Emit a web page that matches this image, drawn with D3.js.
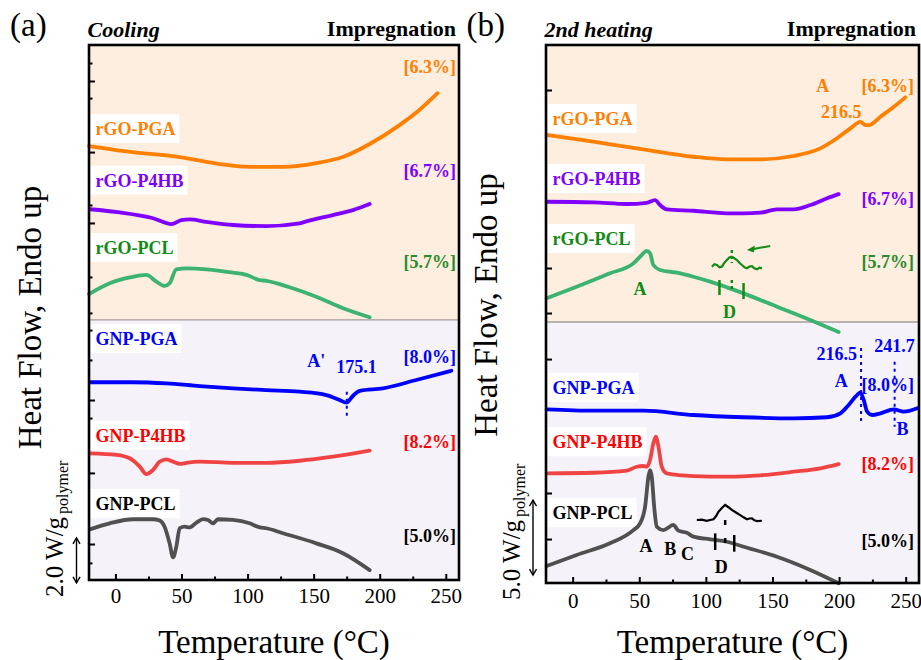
<!DOCTYPE html>
<html><head><meta charset="utf-8">
<script src="https://cdn.jsdelivr.net/npm/d3@7"></script>
<style>body{margin:0;background:#fff}svg{display:block}text{font-family:"Liberation Serif","Times New Roman",serif}</style>
</head><body><svg width="921" height="660"></svg>
<script>
// ---------- DATA ----------
const tempDomain = [-20, 260];
const tempMajorTicks = [0, 50, 100, 150, 200, 250];
const tempMinorTicks = [25, 75, 125, 175, 225];
const seriesNames = ["rGO-PGA", "rGO-P4HB", "rGO-PCL", "GNP-PGA", "GNP-P4HB", "GNP-PCL"];
const impregnation = ["[6.3%]", "[6.7%]", "[5.7%]", "[8.0%]", "[8.2%]", "[5.0%]"];

// (a) Cooling, stacked heat flow (W/g, offset)  [T (°C), value]
const coolRgoPga = [[-20,19.29],[13,19.02],[48.6,18.8],[79,18.49],[101.6,18.36],[126.6,18.36],[152,18.53],[172,18.8],[192.4,19.38],[215,20.22],[230,20.89],[243.8,21.64]];
const coolRgoP4hb = [[-19.4,16.48],[3.3,16.34],[28.4,16.08],[42.4,15.82],[49.9,16.0],[56.2,16.03],[68.8,15.92],[89,15.78],[114.2,15.73],[139.4,15.85],[143.2,15.92],[164.6,16.22],[179.7,16.44],[192.4,16.71]];
const coolRgoPcl = [[-20,12.71],[-4.3,13.19],[11,13.45],[23.4,13.56],[31,13.26],[37.2,13.07],[41,13.19],[46.1,13.81],[53.7,13.85],[68.8,13.81],[89,13.66],[99.1,13.56],[109.2,13.33],[114.2,13.3],[131.8,13.01],[152,12.59],[172.2,12.08],[192.4,11.68]];
const coolGnpPga = [[-19.4,8.79],[13.3,8.79],[38.6,8.74],[63.8,8.62],[89,8.52],[114.2,8.44],[139.4,8.37],[159.6,8.22],[169.7,8.0],[174.7,7.88],[179.7,8.18],[184.8,8.41],[202.4,8.52],[227.7,8.89],[254.2,9.3]];
const coolGnpP4hb = [[-19.4,5.63],[0.8,5.56],[10.8,5.41],[18.4,5.04],[23.4,4.71],[28.4,4.89],[33.5,5.26],[38.6,5.36],[43.6,5.26],[48.6,5.16],[53.7,5.21],[63.8,5.26],[89,5.21],[114.2,5.21],[139.4,5.3],[164.6,5.48],[192.4,5.75]];
const coolGnpPcl = [[-19.4,2.25],[-4.3,2.52],[13.3,2.7],[28.4,2.7],[33.5,2.64],[37.2,2.37],[41,1.63],[43.6,1.01],[46.1,1.48],[48.6,2.3],[52.4,2.37],[56.2,2.34],[61.3,2.55],[66.3,2.71],[70.1,2.67],[73.9,2.52],[77.6,2.7],[89,2.67],[101.6,2.52],[109.2,2.34],[114.2,2.3],[126.8,2.08],[152,1.63],[172.2,1.19],[192.4,0.44]];
const coolPeaks = [175.1];

// (b) 2nd heating
const heatRgoPga = [[-19.5,29.87],[15.5,29.42],[53.1,28.91],[90.7,28.42],[115.8,28.25],[140.8,28.25],[165.9,28.47],[185.9,28.98],[198.5,29.65],[208.5,30.31],[216,30.75],[219.8,30.53],[222.3,30.53],[231.1,31.09],[241.1,31.75],[249.8,32.38]];
const heatRgoP4hb = [[-19.5,25.42],[15.5,25.38],[40.6,25.27],[55.6,25.35],[61.9,25.53],[65.6,25.2],[70.7,24.91],[90.7,24.82],[115.8,24.65],[128.3,24.65],[140.8,24.69],[153.4,24.91],[165.9,24.91],[178.4,25.2],[191,25.65],[199.7,25.93]];
const heatRgoPcl = [[-19.5,18.98],[3,19.75],[28,20.65],[45.6,21.31],[51.9,21.87],[55.6,22.15],[58.1,21.98],[60.6,21.2],[65.6,20.87],[78.2,20.69],[90.7,20.42],[103.2,20.09],[115.8,19.71],[128.3,19.31],[153.4,18.42],[178.4,17.53],[199.7,16.73]];
const heatGnpPga = [[-19.5,11.58],[15.5,11.49],[53.1,11.49],[90.7,11.2],[128.3,11.05],[165.9,10.98],[191,11.05],[201,11.31],[207.2,11.87],[212.3,12.42],[216,12.69],[218.5,12.2],[221.1,11.42],[224.8,11.2],[231.1,11.31],[241.1,11.58],[248.6,11.42],[258.6,11.65]];
const heatGnpP4hb = [[-19.5,7.31],[15.5,7.35],[40.6,7.49],[48.1,7.75],[53.1,7.8],[55.6,7.75],[58.1,8.2],[60.6,9.31],[62.4,9.75],[64.4,9.09],[66.9,7.75],[70.7,7.31],[90.7,7.13],[115.8,7.09],[140.8,7.18],[165.9,7.42],[185.9,7.65],[199.7,7.93]];
const heatGnpPcl = [[-19.5,1.13],[3,1.87],[28,2.65],[45.6,3.53],[50.6,3.98],[54.4,5.09],[56.9,7.09],[58.1,7.53],[59.4,7.09],[61.2,5.09],[63.2,3.75],[68.2,3.53],[75.6,3.87],[79.4,3.49],[85.7,3.35],[90.7,3.09],[103.2,2.91],[115.8,2.75],[128.3,2.42],[153.4,1.75],[178.4,0.87],[199.7,-0.02]];
// magnified insets of the D region
const insetRgoPcl = [[104.5,21.09],[106.4,21.25],[108.3,21.2],[110.2,21.05],[112,21.09],[113.9,21.35],[115.8,21.53],[117.6,21.7],[119.5,21.75],[121.4,21.65],[123.3,21.53],[125.2,21.35],[127.1,21.2],[129,21.05],[130.8,20.98],[132.7,21.1],[134.6,21.13],[136.4,20.98],[138.3,20.91],[140.2,21.02],[142.1,20.98]];
const insetGnpPcl = [[93.2,4.2],[97,4.22],[100.7,4.15],[103.2,4.2],[105.7,4.25],[107.6,4.45],[109.5,4.75],[112,5.0],[114.5,5.2],[117,5.05],[119.5,4.87],[122.6,4.7],[125.8,4.53],[128.3,4.38],[130.8,4.25],[132.7,4.3],[134.6,4.31],[136.4,4.18],[138.3,4.13],[142.1,4.15]];
const heatPeaksPga = [216.5, 241.7];
const heatPeakRgoPga = [216.5];

// ---------- STYLE ----------
const lineColors = ["#FF8000", "#8000FF", "#3CB371", "#0000FF", "#F04444", "#505050"];
const labelColors = ["#FF8000", "#8000FF", "#138A13", "#0000FF", "#FF0000", "#000000"];
const GREEN = "#138A13";
const svg = d3.select("svg");

function txt(g, x, y, s, o = {}) {
  return g.append("text").attr("x", x).attr("y", y).text(s)
    .attr("font-size", o.size || 18).attr("font-weight", o.weight || "bold")
    .attr("font-style", o.style || "normal").attr("fill", o.fill || "#000")
    .attr("text-anchor", o.anchor || "start");
}
function vline(g, x, y1, y2, color, w, dash) {
  const l = g.append("line").attr("x1", x).attr("x2", x).attr("y1", y1).attr("y2", y2)
    .attr("stroke", color).attr("stroke-width", w);
  if (dash) l.attr("stroke-dasharray", dash);
  return l;
}

function drawPanel(p) {
  const x = d3.scaleLinear().domain(tempDomain).range([p.left, p.right]);
  const y = d3.scaleLinear().domain([0, p.yMax]).range([p.bottom, p.top]);
  const g = svg.append("g");
  const W = p.right - p.left;
  g.append("rect").attr("x", p.left).attr("y", p.top).attr("width", W).attr("height", y(p.split) - p.top).attr("fill", "#FDEEDF");
  g.append("rect").attr("x", p.left).attr("y", y(p.split)).attr("width", W).attr("height", p.bottom - y(p.split)).attr("fill", "#F5F3F9");
  g.append("line").attr("x1", p.left).attr("x2", p.right).attr("y1", y(p.split)).attr("y2", y(p.split)).attr("stroke", "#A39C9C").attr("stroke-width", 1.3);

  // series labels with white boxes
  seriesNames.forEach((name, i) => {
    const t = txt(g, p.labelX, p.labelY[i], name, { fill: labelColors[i] });
    const w = t.node().getComputedTextLength();
    g.insert("rect", () => t.node()).attr("x", p.labelX - 5).attr("y", p.labelY[i] - 21)
      .attr("width", w + 9).attr("height", 29).attr("fill", "#fff");
  });
  impregnation.forEach((s, i) => txt(g, p.pctX, p.pctY[i], s, { fill: labelColors[i] === "#138A13" ? "#2A8A2A" : labelColors[i], anchor: "end" }));

  const line = d3.line().x(d => x(d[0])).y(d => y(d[1])).curve(d3.curveMonotoneX);
  p.series.forEach((s, i) => {
    g.append("path").datum(s).attr("d", line).attr("fill", "none").attr("stroke", lineColors[i])
      .attr("stroke-width", 3.8).attr("stroke-linejoin", "round").attr("stroke-linecap", "round");
  });

  p.extra(g, x, y);

  // axes
  const ax = g.append("g").attr("transform", `translate(0,${p.bottom})`)
    .call(d3.axisBottom(x).tickValues(tempMajorTicks).tickSize(-6).tickPadding(p.tickPad).tickFormat(d3.format("d")));
  ax.select(".domain").remove();
  ax.selectAll("line").attr("stroke", "#000").attr("stroke-width", 2);
  ax.selectAll("text").attr("font-size", 21).attr("font-family", "Liberation Serif").attr("fill", "#000");
  const axm = g.append("g").attr("transform", `translate(0,${p.bottom})`)
    .call(d3.axisBottom(x).tickValues(tempMinorTicks).tickSize(-3.5).tickFormat(""));
  axm.select(".domain").remove();
  axm.selectAll("line").attr("stroke", "#000").attr("stroke-width", 2);
  const ay = g.append("g").attr("transform", `translate(${p.left},0)`)
    .call(d3.axisLeft(y).tickValues(p.yMajor).tickSize(-6).tickFormat(""));
  ay.select(".domain").remove();
  ay.selectAll("line").attr("stroke", "#000").attr("stroke-width", 2);
  const aym = g.append("g").attr("transform", `translate(${p.left},0)`)
    .call(d3.axisLeft(y).tickValues(p.yMinor).tickSize(-3.5).tickFormat(""));
  aym.select(".domain").remove();
  aym.selectAll("line").attr("stroke", "#000").attr("stroke-width", 2);

  g.append("rect").attr("x", p.left).attr("y", p.top).attr("width", W).attr("height", p.bottom - p.top)
    .attr("fill", "none").attr("stroke", "#000").attr("stroke-width", 2.6);

  // titles
  txt(g, p.letterX, 35.5, p.letter, { size: 33, weight: "normal" });
  txt(g, p.left - 1.5, 37, p.title, { size: 22, style: "italic" });
  txt(g, p.right - 3, 36, "Impregnation", { size: 22, anchor: "end" });
  txt(g, (p.left + p.right) / 2, 653, "Temperature (°C)", { size: 33, weight: "normal", anchor: "middle" });
  g.append("text").attr("transform", `translate(${p.yTitleX},${p.yTitleY}) rotate(-90)`)
    .attr("text-anchor", "middle").attr("font-size", 33).text("Heat Flow, Endo up");

  // scale bar
  const sb = g.append("text").attr("transform", `translate(${p.sbTextX},${p.sbTextY}) rotate(-90)`).attr("font-size", 25);
  sb.append("tspan").text(p.sbLabel);
  sb.append("tspan").attr("font-size", 16).attr("dy", 5).attr("dx", 3).text("polymer");
  const y1 = y(p.sbFrom), y2 = y(p.sbFrom + p.sbSize), ax0 = p.sbArrowX;
  vline(g, ax0, y1, y2, "#000", 1.4);
  g.append("path").attr("d", `M${ax0 - 3.5},${y2 + 6} L${ax0},${y2} L${ax0 + 3.5},${y2 + 6}`).attr("fill", "none").attr("stroke", "#000").attr("stroke-width", 1.4);
  g.append("path").attr("d", `M${ax0 - 3.5},${y1 - 6} L${ax0},${y1} L${ax0 + 3.5},${y1 - 6}`).attr("fill", "none").attr("stroke", "#000").attr("stroke-width", 1.4);
}

// ---------- PANEL (a) ----------
drawPanel({
  left: 89, right: 459, top: 45, bottom: 580, yMax: 23.78, split: 11.56, tickPad: 8,
  yMajor: [22.18, 19.02, 15.87, 8.0, 4.76, 1.6],
  yMinor: [22.98, 21.42, 16.67, 13.47, 11.87, 11.11, 9.78, 7.2, 0.76],
  series: [coolRgoPga, coolRgoP4hb, coolRgoPcl, coolGnpPga, coolGnpP4hb, coolGnpPcl],
  labelX: 95.5, labelY: [135, 186.7, 254, 345, 441.7, 510],
  pctX: 456, pctY: [72.7, 176.7, 268.3, 363.3, 447.7, 542.3],
  letter: "(a)", letterX: 10, title: "Cooling",
  yTitleX: 41, yTitleY: 317.5,
  sbTextX: 62.5, sbTextY: 597, sbLabel: "2.0 W/g", sbArrowX: 76.5, sbFrom: -0.13, sbSize: 2.0,
  extra: (g, x, y) => {
    const px = x(coolPeaks[0]);
    vline(g, px, y(8.37), y(7.2), "#0000FF", 2, "3,4");
    txt(g, x(152), y(9.47), "A'", { fill: "#0000FF", anchor: "middle" });
    txt(g, x(182.5), y(9.2), d3.format(".1f")(coolPeaks[0]), { fill: "#0000FF", anchor: "middle" });
  }
});

// ---------- PANEL (b) ----------
drawPanel({
  left: 546, right: 919, top: 45, bottom: 583, yMax: 35.87, split: 17.4, tickPad: 10,
  yMajor: [32.87, 21.0, 18.0, 14.93, 6.0, 2.93],
  yMinor: [],
  series: [heatRgoPga, heatRgoP4hb, heatRgoPcl, heatGnpPga, heatGnpP4hb, heatGnpPcl],
  labelX: 552.5, labelY: [125, 185, 245, 394, 448.3, 519],
  pctX: 914, pctY: [91.7, 205, 268.3, 390.7, 470, 546.7],
  letter: "(b)", letterX: 466.5, title: "2nd heating",
  yTitleX: 497, yTitleY: 305,
  sbTextX: 520, sbTextY: 600, sbLabel: "5.0 W/g", sbArrowX: 533, sbFrom: 0.53, sbSize: 5.0,
  extra: (g, x, y) => {
    const thin = d3.line().x(d => x(d[0])).y(d => y(d[1]));
    // rGO-PGA annotation
    txt(g, x(187.8), y(32.75), "A", { fill: "#FF8000", anchor: "middle" });
    txt(g, x(heatPeakRgoPga[0]) + 0.5, y(30.98), d3.format(".1f")(heatPeakRgoPga[0]), { fill: "#FF8000", anchor: "end" });
    // rGO-PCL annotations
    g.append("path").datum(insetRgoPcl).attr("d", thin).attr("fill", "none").attr("stroke", GREEN).attr("stroke-width", 2.2);
    vline(g, x(119.5), y(22.2), y(21.33), GREEN, 2.5, "3,3");
    vline(g, x(119.5), y(20.2), y(19.53), GREEN, 2.5, "3,3");
    vline(g, x(110.2), y(20.2), y(19.2), GREEN, 2.5);
    vline(g, x(128.3), y(20.0), y(18.93), GREEN, 2.5);
    txt(g, x(117.7), y(17.67), "D", { fill: GREEN, anchor: "middle" });
    txt(g, x(50.6), y(19.2), "A", { fill: GREEN, anchor: "middle" });
    const a0 = [x(148.3), y(22.47)], a1 = [x(130.8), y(22.2)];
    g.append("line").attr("x1", a0[0]).attr("y1", a0[1]).attr("x2", a1[0] + 4).attr("y2", a1[1] - 0.6).attr("stroke", GREEN).attr("stroke-width", 2);
    g.append("path").attr("d", `M${a1[0]},${a1[1]} L${a1[0] + 8},${a1[1] - 4.5} L${a1[0] + 7},${a1[1] + 2.5} Z`).attr("fill", GREEN);
    // GNP-PGA annotations
    vline(g, x(heatPeaksPga[0]), y(15.67), y(10.67), "#0000FF", 2, "3,4");
    vline(g, x(heatPeaksPga[1]), y(14.75), y(10.42), "#0000FF", 2, "3,4");
    txt(g, x(heatPeaksPga[0]) - 4, y(14.87), d3.format(".1f")(heatPeaksPga[0]), { fill: "#0000FF", anchor: "end" });
    txt(g, x(heatPeaksPga[1]), y(15.42), d3.format(".1f")(heatPeaksPga[1]), { fill: "#0000FF", anchor: "middle" });
    txt(g, x(201.7), y(13.09), "A", { fill: "#0000FF", anchor: "middle" });
    txt(g, x(247.6), y(9.87), "B", { fill: "#0000FF", anchor: "middle" });
    // GNP-PCL annotations
    g.append("path").datum(insetGnpPcl).attr("d", thin).attr("fill", "none").attr("stroke", "#000").attr("stroke-width", 2.2);
    vline(g, x(114.5), y(4.2), y(3.87), "#000", 2.5);
    vline(g, x(114.5), y(3.0), y(2.67), "#000", 2.5);
    vline(g, x(107), y(3.31), y(2.2), "#000", 2.5);
    vline(g, x(121.3), y(3.2), y(2.09), "#000", 2.5);
    txt(g, x(55.1), y(2.09), "A", { anchor: "middle" });
    txt(g, x(73.2), y(1.87), "B", { anchor: "middle" });
    txt(g, x(86.3), y(1.53), "C", { anchor: "middle" });
    txt(g, x(111.5), y(0.69), "D", { anchor: "middle" });
  }
});
</script></body></html>
